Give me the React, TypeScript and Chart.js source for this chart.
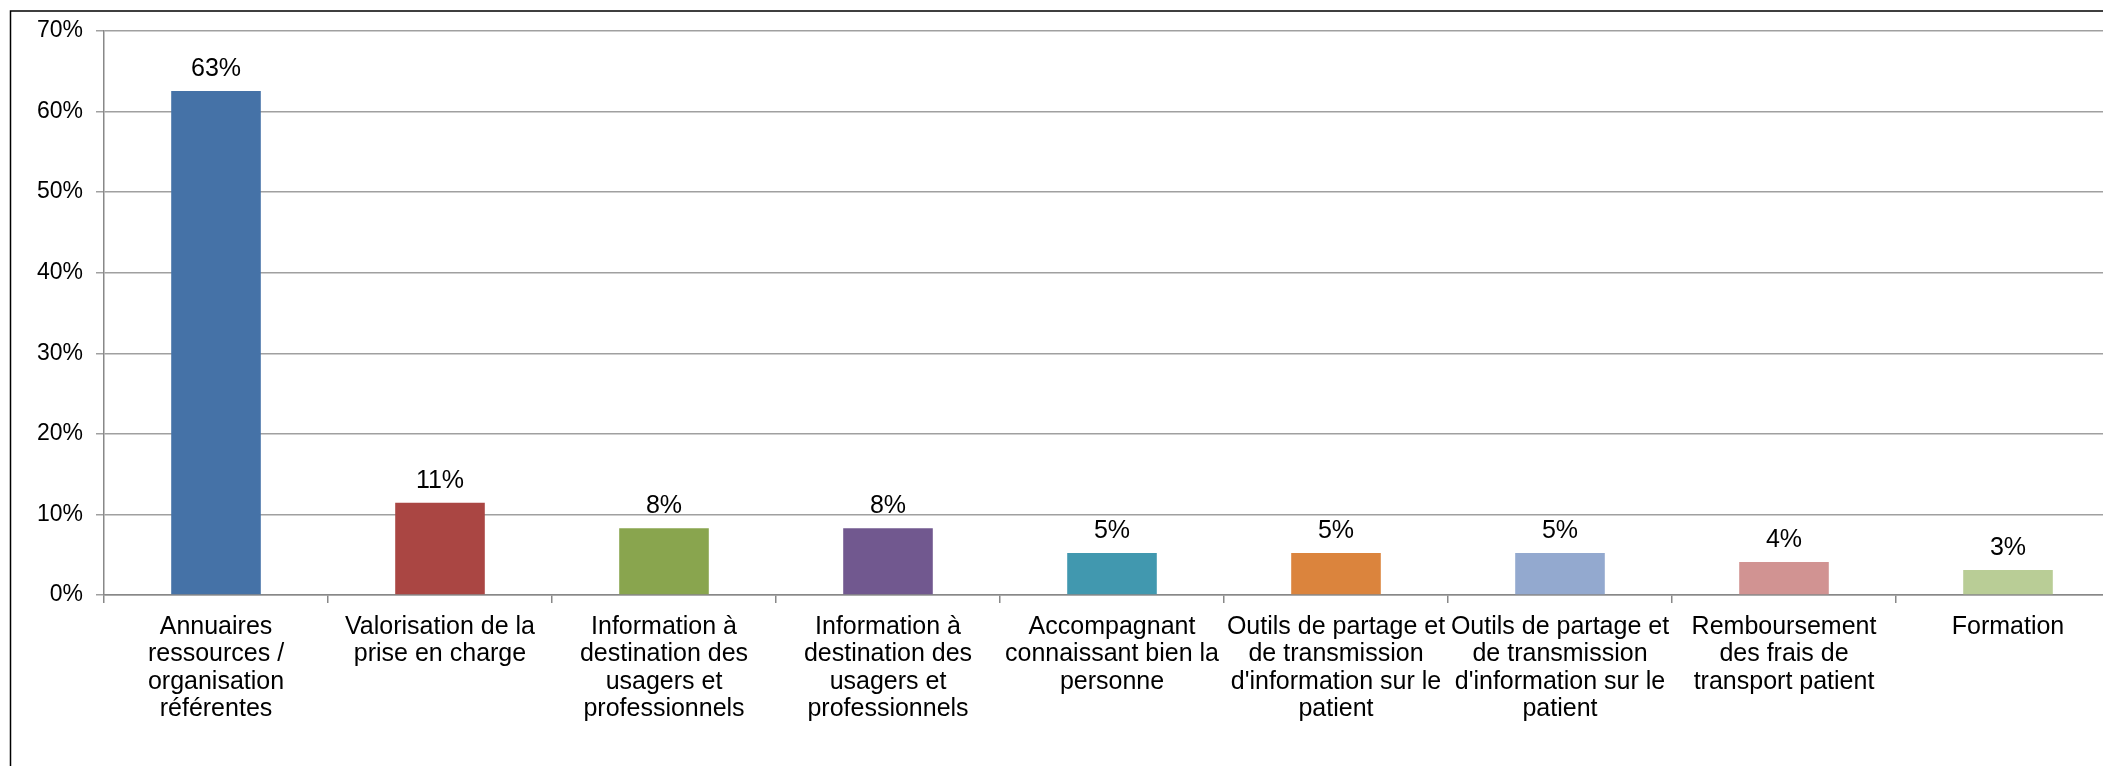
import React, { useEffect, useRef } from 'react';
import { Chart, registerables } from 'chart.js';

Chart.register(...registerables);

const categories: string[][] = [
  ['Annuaires', 'ressources /', 'organisation', 'référentes'],
  ['Valorisation de la', 'prise en charge'],
  ['Information à', 'destination des', 'usagers et', 'professionnels'],
  ['Information à', 'destination des', 'usagers et', 'professionnels'],
  ['Accompagnant', 'connaissant bien la', 'personne'],
  ['Outils de partage et', 'de transmission', "d'information sur le", 'patient'],
  ['Outils de partage et', 'de transmission', "d'information sur le", 'patient'],
  ['Remboursement', 'des frais de', 'transport patient'],
  ['Formation'],
];

const values = [62.55, 11.46, 8.3, 8.3, 5.2, 5.2, 5.2, 4.1, 3.1];
const valueLabels = ['63%', '11%', '8%', '8%', '5%', '5%', '5%', '4%', '3%'];
const barColors = [
  '#4572A7',
  '#AA4643',
  '#89A54E',
  '#71588F',
  '#4198AF',
  '#DB843D',
  '#93A9CF',
  '#D19392',
  '#B9CD96',
];
const yMin = 0;
const yMax = 70;
const yStep = 10;

const FONT = '"Liberation Sans", Arial, sans-serif';
const CANVAS_W = 2140;
const CANVAS_H = 766;

const borderPlugin = {
  id: 'outerBorder',
  beforeDraw(chart: any) {
    const ctx = chart.ctx;
    ctx.save();
    ctx.fillStyle = '#ffffff';
    ctx.fillRect(0, 0, chart.width, chart.height);
    ctx.strokeStyle = '#000000';
    ctx.lineWidth = 1.5;
    ctx.beginPath();
    ctx.moveTo(10.5, chart.height + 10);
    ctx.lineTo(10.5, 11);
    ctx.lineTo(chart.width + 10, 11);
    ctx.stroke();
    ctx.restore();
  },
};

const valueLabelPlugin = {
  id: 'valueLabels',
  afterDatasetsDraw(chart: any) {
    const ctx = chart.ctx;
    const meta = chart.getDatasetMeta(0);
    ctx.save();
    ctx.font = `25px ${FONT}`;
    ctx.fillStyle = '#000000';
    ctx.textAlign = 'center';
    ctx.textBaseline = 'alphabetic';
    meta.data.forEach((bar: any, i: number) => {
      ctx.fillText(valueLabels[i], bar.x, bar.y - 15);
    });
    ctx.restore();
  },
};

export default function App() {
  const canvasRef = useRef<HTMLCanvasElement | null>(null);

  useEffect(() => {
    const canvas = canvasRef.current;
    if (!canvas) return;
    const chart = new Chart(canvas, {
      type: 'bar',
      data: {
        labels: categories,
        datasets: [
          {
            data: values,
            backgroundColor: barColors,
            borderWidth: 0,
            barPercentage: 0.4,
            categoryPercentage: 1,
          },
        ],
      },
      options: {
        animation: false,
        responsive: false,
        devicePixelRatio: 1,
        layout: { padding: { left: 0, top: 31, right: 20, bottom: 0 } },
        plugins: {
          legend: { display: false },
          tooltip: { enabled: false },
          title: { display: false },
        },
        scales: {
          x: {
            afterFit: (scale: any) => {
              scale.height = CANVAS_H - 595;
            },
            grid: {
              display: true,
              drawOnChartArea: false,
              drawTicks: true,
              tickLength: 8,
              color: '#888888',
              lineWidth: 1.5,
              offset: true,
            },
            border: { display: true, color: '#888888', width: 1.5 },
            ticks: {
              font: { family: FONT, size: 25, lineHeight: 1.1 },
              color: '#000000',
              padding: 10,
              maxRotation: 0,
              minRotation: 0,
              autoSkip: false,
            },
          },
          y: {
            min: yMin,
            max: yMax,
            afterFit: (scale: any) => {
              scale.width = 104;
            },
            ticks: {
              stepSize: yStep,
              callback: (v: any) => `${v}%`,
              padding: 13,
              font: { family: FONT, size: 23 },
              color: '#000000',
            },
            grid: {
              color: '#a0a0a0',
              lineWidth: 1.5,
              tickLength: 8,
              drawTicks: true,
            },
            border: { display: true, color: '#888888', width: 1.5 },
          },
        },
      },
      plugins: [borderPlugin, valueLabelPlugin],
    });
    return () => chart.destroy();
  }, []);

  return (
    <div
      style={{
        position: 'fixed',
        left: 0,
        top: 0,
        width: 2103,
        height: 766,
        overflow: 'hidden',
        background: '#ffffff',
      }}
    >
      <canvas
        ref={canvasRef}
        width={CANVAS_W}
        height={CANVAS_H}
        style={{ position: 'absolute', left: 0, top: 0, width: CANVAS_W, height: CANVAS_H }}
      />
    </div>
  );
}
